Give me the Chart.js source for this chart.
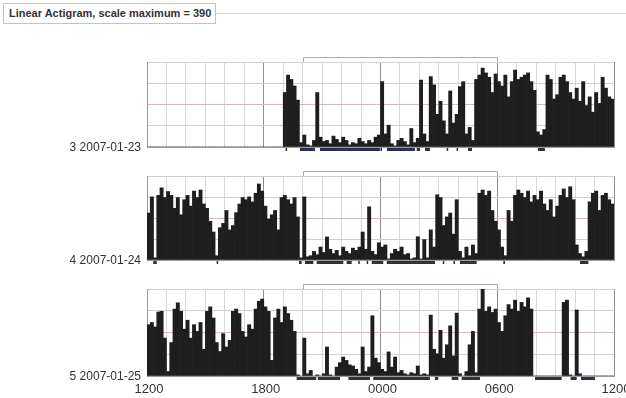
<!DOCTYPE html>
<html>
<head>
<meta charset="utf-8">
<script src="https://cdn.jsdelivr.net/npm/chart.js@4"></script>
<style>
  body { margin: 0; background: #fff; width: 626px; height: 398px; overflow: hidden; position: relative; font-family: "Liberation Sans", Arial, sans-serif; }
  #title { position: absolute; left: 3px; top: 3px; height: 21px; box-sizing: border-box; border: 1px solid #c4c4c4; font-weight: bold; font-size: 11px; color: #333; line-height: 19px; padding: 0 4px 0 5px; white-space: nowrap; background: #fff; z-index: 1; }
  #rule { position: absolute; left: 200px; top: 13px; right: 0; height: 1px; background: #e4d4d6; }
  canvas { position: absolute; left: 0; }
</style>
</head>
<body>
<div id="rule"></div>
<div id="title">Linear Actigram, scale maximum = 390</div>
<canvas id="day23" width="626" height="110" style="top:50px"></canvas>
<canvas id="day24" width="626" height="110" style="top:164px"></canvas>
<canvas id="day25" width="626" height="121" style="top:277px"></canvas>
<script>
// 10-minute activity bins, starting at 12:00 noon (144 per day)
const day23 = [
  0,0,0,0,0,0,0,0,0,0,0,0,
  0,0,0,0,0,0,0,0,0,0,0,0,
  0,0,0,0,0,0,0,0,0,0,0,0,
  0,0,0,0,0,0,250,330,310,280,215,20,
  55,10,5,30,250,45,25,30,15,50,35,20,
  45,30,10,20,15,40,25,15,30,20,45,55,
  300,60,100,15,5,30,40,25,10,85,20,40,
  307,60,25,323,285,150,210,120,60,257,110,150,
  277,300,60,90,30,310,330,362,340,320,250,335,
  300,280,330,230,300,353,310,320,330,340,300,260,
  70,55,80,330,310,220,240,320,330,300,250,220,
  270,210,300,190,230,160,250,200,320,270,230,220
];
const day24 = [
  218,293,10,300,335,290,318,300,240,290,210,280,
  300,250,320,290,325,260,240,180,130,20,150,170,
  230,140,160,220,260,290,280,293,270,310,353,320,
  250,190,210,230,140,290,300,280,260,290,200,10,
  293,15,20,40,25,60,35,107,50,30,45,20,
  60,40,30,55,45,60,130,50,247,40,25,80,
  60,70,5,30,50,40,60,25,30,5,10,108,
  5,95,10,140,60,303,290,160,200,218,120,280,
  40,10,60,20,70,30,310,325,300,320,230,180,
  140,60,20,230,180,300,325,310,290,320,270,300,
  280,320,260,230,280,200,250,300,330,290,340,280,
  70,30,15,40,270,310,320,230,300,310,280,260
];
const day25 = [
  230,240,220,287,290,170,20,150,300,328,290,210,
  250,170,230,200,240,120,290,310,260,150,110,190,
  130,160,290,300,280,200,175,230,210,300,335,345,
  310,290,70,260,300,240,310,280,250,200,5,0,
  170,10,25,0,5,0,10,130,5,0,40,60,
  85,70,50,45,30,10,130,20,40,270,80,60,
  30,20,108,40,85,15,25,10,5,15,10,45,
  5,10,5,273,120,100,205,80,140,225,90,282,
  10,0,20,140,200,15,300,390,290,310,285,300,
  240,200,270,320,300,340,290,330,310,350,300,0,
  0,0,0,0,0,0,0,0,330,340,5,0,
  296,10,0,0,0,0,0,0,0,0,0,0
];

// rest bouts (hours after noon)
const rests23 = [[7.12,7.18],[7.86,8.63],[8.89,11.97],[12.0,12.06],[12.33,13.77],[13.86,14.03],[14.29,14.54],[15.4,15.47],[15.91,15.98],[16.5,16.7],[20.09,20.45]];
const rests24 = [[0.32,0.5],[3.58,3.63],[7.81,7.95],[8.12,8.55],[8.72,10.09],[10.26,10.52],[10.86,10.92],[11.29,11.35],[11.55,12.14],[12.32,14.8],[15.2,15.26],[15.75,15.8],[16.08,16.94],[18.31,18.4],[22.25,22.68]];
const rests25 = [[7.69,8.7],[8.78,9.92],[10.35,11.46],[11.63,14.54],[14.8,14.97],[15.66,16.0],[16.17,17.11],[19.94,21.31],[21.77,22.08],[22.3,23.02]];

const rowLabels = ['3 2007-01-23', '4 2007-01-24', '5 2007-01-25'];
const hourTicks = ['1200', '1800', '0000', '0600', '1200'];
const tickHours = [0, 6, 12, 18, 24];
const sleepWindow = [8, 18];
const scaleMax = 390;

const actigramPlugin = {
  id: 'actigram',
  afterDraw(chart, args, opts) {
    const { ctx, chartArea: a, scales: { x } } = chart;
    ctx.save();
    // sleep window bracket above the plot
    const b0 = Math.round(x.getPixelForValue(sleepWindow[0])) + 0.5;
    const b1 = Math.round(x.getPixelForValue(sleepWindow[1])) + 0.5;
    ctx.strokeStyle = '#b9a2ab';
    ctx.lineWidth = 1;
    ctx.beginPath();
    ctx.moveTo(b0, a.top);
    ctx.lineTo(b0, a.top - 4.5);
    ctx.lineTo(b1, a.top - 4.5);
    ctx.lineTo(b1, a.top);
    ctx.stroke();
    // rest bouts under the axis
    ctx.fillStyle = '#2b3149';
    opts.rests.forEach(([s, e]) => {
      const p0 = x.getPixelForValue(s);
      const p1 = x.getPixelForValue(e);
      ctx.fillRect(p0, a.bottom + 1, Math.max(p1 - p0, 1.5), 3);
    });
    // day label
    ctx.fillStyle = '#333';
    ctx.font = '12px "Liberation Sans", Arial';
    ctx.textAlign = 'right';
    ctx.textBaseline = 'middle';
    ctx.fillText(opts.label, a.left - 6, a.bottom + 1);
    if (opts.hourLabels) {
      ctx.font = '13px "Liberation Sans", Arial';
      ctx.textAlign = 'center';
      tickHours.forEach((h, i) => {
        ctx.fillText(hourTicks[i], x.getPixelForValue(h) + 2, a.bottom + 13);
      });
    }
    ctx.restore();
  }
};

function toPoints(values) {
  return values.map((v, i) => ({ x: (i + 0.5) / 6, y: v }));
}

function drawDay(id, values, label, rests, bottomPad, hourLabels) {
  const ctx = document.getElementById(id).getContext('2d');
  new Chart(ctx, {
    type: 'bar',
    data: {
      datasets: [{
        data: toPoints(values),
        backgroundColor: '#1e1e1e',
        borderWidth: 0,
        barPercentage: 1,
        categoryPercentage: 1
      }]
    },
    options: {
      responsive: false,
      animation: false,
      layout: { padding: { left: 147, right: 12, top: 12, bottom: bottomPad } },
      plugins: {
        legend: { display: false },
        tooltip: { enabled: false },
        actigram: { label, rests, hourLabels }
      },
      scales: {
        x: {
          type: 'linear', min: 0, max: 24, offset: false,
          ticks: { display: false, stepSize: 1 },
          grid: {
            offset: false,
            drawTicks: false,
            color: c => (c.tick && c.tick.value % 6 === 0 ? '#8e8e8e' : '#d8d8d8')
          },
          border: { display: true, color: '#9a9a9a' }
        },
        y: {
          min: 0, max: scaleMax,
          ticks: { display: false, stepSize: scaleMax / 4 },
          grid: { drawTicks: false, color: c => (c.tick && c.tick.value === scaleMax / 2 ? '#d3b8bc' : '#d0d0d0') },
          border: { color: '#9a9a9a' }
        }
      }
    },
    plugins: [actigramPlugin]
  });
}

drawDay('day23', day23, rowLabels[0], rests23, 13, false);
drawDay('day24', day24, rowLabels[1], rests24, 14, false);
drawDay('day25', day25, rowLabels[2], rests25, 22, true);
</script>
</body>
</html>
